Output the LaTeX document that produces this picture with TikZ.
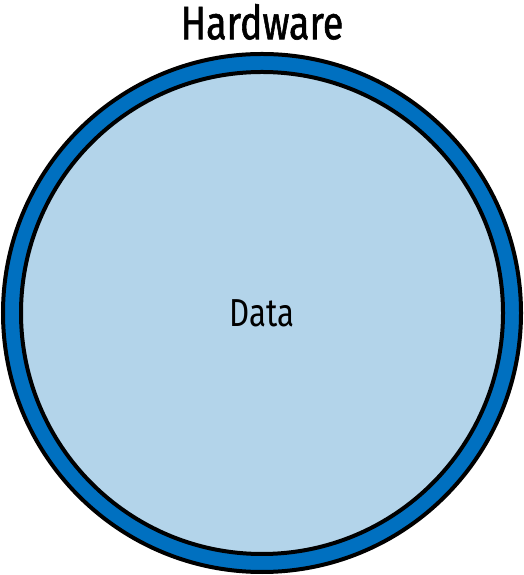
\documentclass[tikz,border=0pt]{standalone}
\usepackage{fontspec}
\setmainfont{Fira Sans}[FakeStretch=0.8]
\newfontfamily\headfont{Fira Sans}[FakeStretch=0.8, FakeBold=1.2]
\usepackage{tikz}
\usetikzlibrary{positioning}
\definecolor{ringBlue}{RGB}{0, 112, 192}
\definecolor{dataBlue}{RGB}{179, 212, 234}

\begin{document}
\begin{tikzpicture}[
        x=1pt, y=1pt,
        ring/.style={circle, draw=black, line width=4pt, fill=ringBlue, minimum size=518pt, inner sep=0pt},
        core/.style={circle, draw=black, line width=4pt, fill=dataBlue, minimum size=482pt, inner sep=0pt},
        label/.style={font=\fontsize{39}{42}\selectfont, inner sep=0pt}
    ]
        \useasboundingbox (0,0) rectangle (524,575);

        % Layers
        \node[ring] (hardware) at (262,262) {};
        \node[core] (data) at (262,262) {};

        % Labels
        \node[label] (datatext) at (data.center) {Data};
        \node[label, font=\headfont\fontsize{47}{50}\selectfont, above=12pt of hardware.north] (hwtext) {Hardware};
    \end{tikzpicture}
\end{document}
